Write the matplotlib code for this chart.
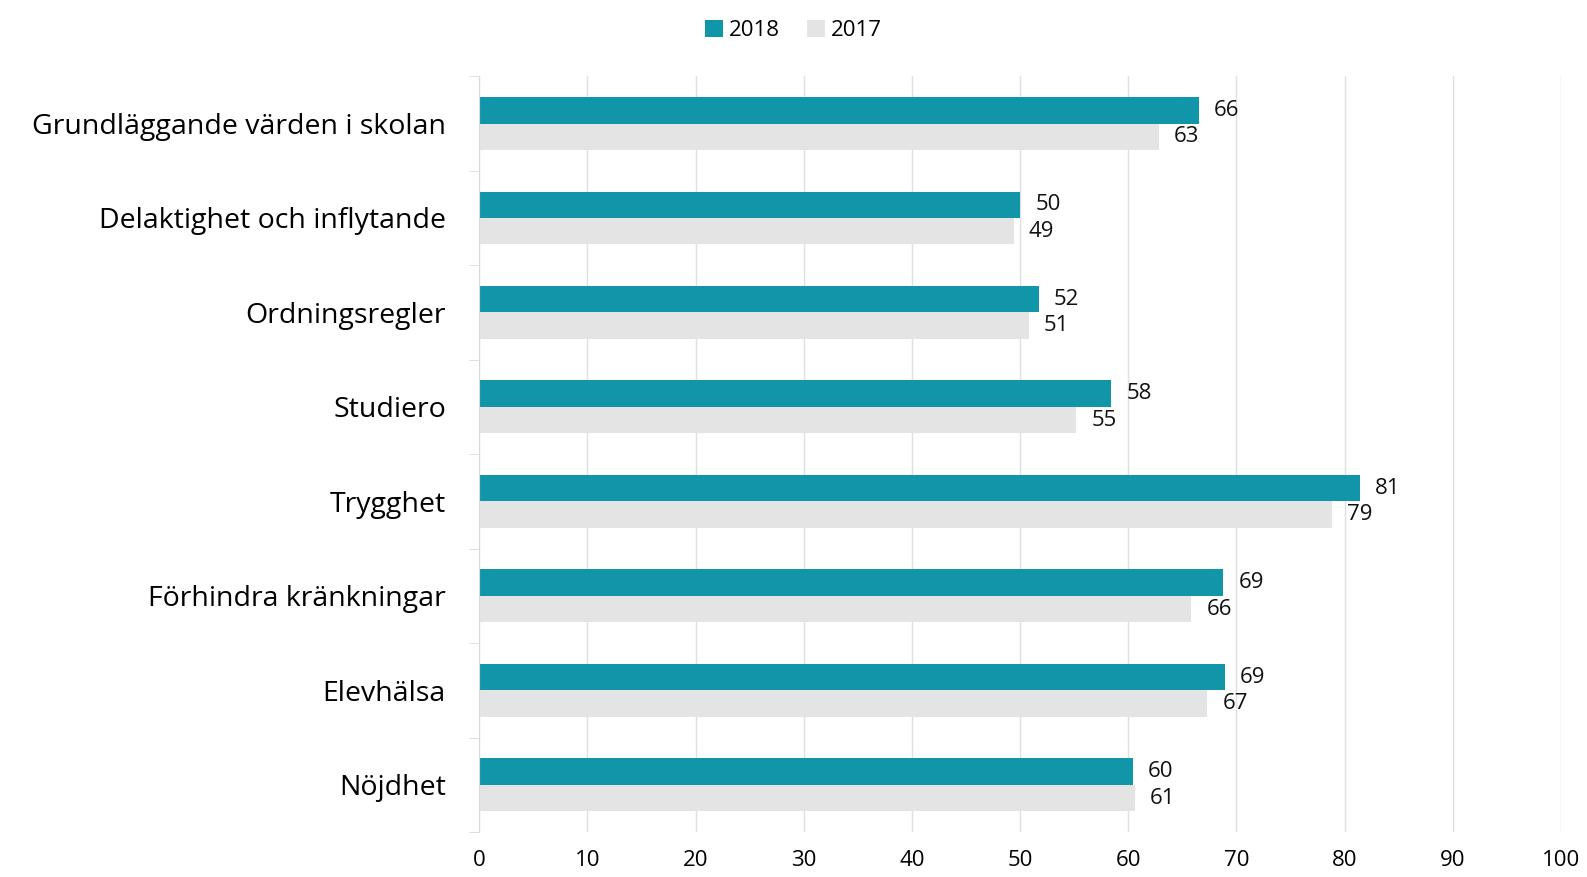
import matplotlib.pyplot as plt
import numpy as np

plt.rcParams["font.family"] = ["Open Sans", "DejaVu Sans"]

kategorier = ["Grundläggande värden i skolan", "Delaktighet och inflytande",
              "Ordningsregler", "Studiero", "Trygghet",
              "Förhindra kränkningar", "Elevhälsa", "Nöjdhet"]
varden_2018 = [66.5, 50.0, 51.7, 58.4, 81.4, 68.8, 68.9, 60.4]
varden_2017 = [62.8, 49.4, 50.8, 55.2, 78.8, 65.8, 67.3, 60.6]
xticks = [0, 10, 20, 30, 40, 50, 60, 70, 80, 90, 100]

teal = "#1196A9"
gra = "#E4E4E4"

fig = plt.figure(figsize=(15.87, 8.77), dpi=100)
ax = fig.add_axes([0.302, 0.0513, 0.6816, 0.8617])

y = np.arange(len(kategorier))
h = 0.28
b1 = ax.barh(y - h / 2, varden_2018, height=h, color=teal, label="2018")
b2 = ax.barh(y + h / 2, varden_2017, height=h, color=gra, label="2017")

for bars in (b1, b2):
    for rect in bars:
        v = rect.get_width()
        ax.annotate("%.0f" % v, (v, rect.get_y() + rect.get_height() / 2),
                    xytext=(11, 0), textcoords="offset points",
                    ha="left", va="center", fontsize=16, color="#111111")

ax.set_xlim(0, 100)
ax.set_ylim(len(kategorier) - 0.5, -0.5)
ax.set_xticks(xticks)
ax.set_xticklabels([str(t) for t in xticks], fontsize=16)
ax.tick_params(axis="x", length=0, pad=13)
ax.set_yticks(y)
ax.set_yticklabels(kategorier, fontsize=20.5)
ax.tick_params(axis="y", which="major", length=0, pad=24)
ax.set_yticks(np.arange(len(kategorier) + 1) - 0.5, minor=True)
ax.tick_params(axis="y", which="minor", length=7, color="#d9d9d9", direction="out")

ax.grid(axis="x", color="#e0e0e0", linewidth=1)
ax.set_axisbelow(True)
for s in ["top", "right", "bottom"]:
    ax.spines[s].set_visible(False)
ax.spines["left"].set_color("#d9d9d9")

fig.legend(handles=[b1, b2], labels=["2018", "2017"], loc="upper center",
           bbox_to_anchor=(0.5, 1.0), ncol=2, frameon=False, fontsize=16,
           handlelength=0.8, handleheight=0.8, handletextpad=0.3, columnspacing=1.2)

fig.savefig("out.png", dpi=100)
